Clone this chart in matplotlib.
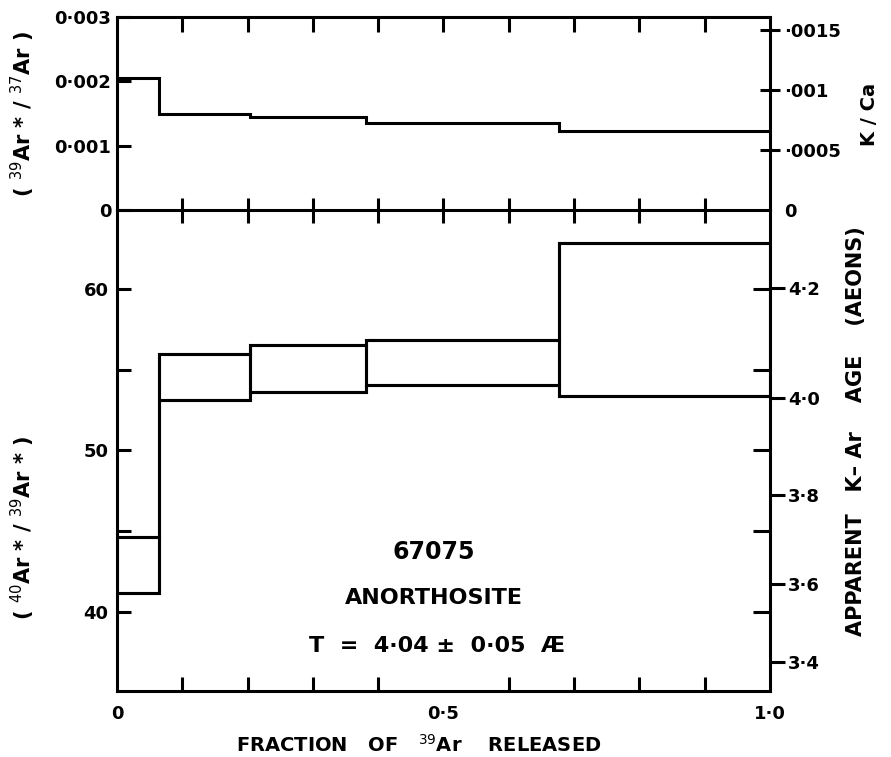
import numpy as np
import matplotlib.pyplot as plt

# step boundaries (fraction of 39Ar released)
edges = [0.0, 0.065, 0.204, 0.381, 0.677, 1.0]

# top panel: 39Ar*/37Ar per step
ar39_37 = [0.00205, 0.00150, 0.00145, 0.00135, 0.00123]
kca_factor = 0.535  # K/Ca = factor * (39Ar*/37Ar)

# bottom panel: 40Ar*/39Ar* boxes (upper and lower edge per step)
ratio_hi = [44.6, 56.0, 56.5, 56.85, 62.85]
ratio_lo = [41.15, 53.1, 53.6, 54.05, 53.35]

# apparent age scale on the right: ratio position of each age tick
age_labels = ["4·2", "4·0", "3·8", "3·6", "3·4"]
age_pos = [60.06, 53.24, 47.24, 41.72, 36.90]

LW = 2.2
TICKFONT = dict(fontsize=13, fontweight="bold")

plt.rcParams["font.family"] = "DejaVu Sans"
plt.rcParams["axes.linewidth"] = LW
plt.rcParams["mathtext.fontset"] = "dejavusans"

fig = plt.figure(figsize=(8.91, 7.57), dpi=100)
ax2 = fig.add_axes([0.1313, 0.0876, 0.7329, 0.6350])
ax1 = fig.add_axes([0.1313, 0.7226, 0.7329, 0.2549])
ax1.patch.set_visible(False)
ax2.patch.set_visible(False)

xt = np.arange(1, 10) / 10

# ---- top panel ----
ax1.stairs(ar39_37, edges, baseline=None, color="black", lw=LW)
ax1.set_xlim(0, 1)
ax1.set_ylim(0, 0.003)
ax1.set_yticks([0, 0.001, 0.002, 0.003])
ax1.set_yticklabels(["0", "0·001", "0·002", "0·003"], **TICKFONT)
ax1.tick_params(axis="y", direction="in", length=10, width=LW, pad=4)
ax1.set_xticks(xt)
ax1.tick_params(axis="x", which="major", top=True, bottom=True, labelbottom=False,
                direction="in", length=11, width=LW)
for t in ax1.xaxis.get_major_ticks():
    t.tick1line.set_marker("|")
    t.tick1line.set_markersize(18)

ax1r = ax1.twinx()
ax1r.set_ylim(0, 0.003 * kca_factor)
ax1r.set_yticks([0, 0.0005, 0.001, 0.0015])
ax1r.set_yticklabels(["0", "·0005", "·001", "·0015"], **TICKFONT)
ax1r.tick_params(axis="y", direction="inout", length=14, width=LW, pad=3)
for t in ax1r.yaxis.get_major_ticks()[:1]:
    t.tick2line.set_visible(False)
for s in ax1r.spines.values():
    s.set_visible(False)

# ---- bottom panel ----
widths = np.diff(edges)
ax2.bar(edges[:-1], np.subtract(ratio_hi, ratio_lo), width=widths, bottom=ratio_lo,
        align="edge", fill=False, edgecolor="black", lw=LW)
ax2.stairs(ratio_hi, edges, baseline=None, color="black", lw=LW)
ax2.stairs(ratio_lo, edges, baseline=None, color="black", lw=LW)
ax2.set_xlim(0, 1)
ax2.set_ylim(35.1, 64.9)
ax2.set_yticks([40, 50, 60])
ax2.set_yticklabels(["40", "50", "60"], **TICKFONT)
ax2.set_yticks([45, 55], minor=True)
ax2.tick_params(axis="y", which="both", direction="in", length=10, width=LW, pad=6)
ax2.set_xticks([0, 0.5, 1.0])
ax2.set_xticklabels(["0", "0·5", "1·0"], **TICKFONT)
ax2.set_xticks(xt, minor=True)
ax2.tick_params(axis="x", which="both", direction="in", length=10, width=LW, pad=10)
ax2.tick_params(axis="x", which="major", length=0)
ax2.spines["top"].set_visible(False)

ax2r = ax2.twinx()
ax2r.set_ylim(ax2.get_ylim())
ax2r.set_yticks(age_pos)
ax2r.set_yticklabels(age_labels, **TICKFONT)
ax2r.tick_params(axis="y", which="major", direction="out", length=11, width=LW, pad=2)
ax2r.set_yticks([40, 45, 50, 55, 60], minor=True)
ax2r.tick_params(axis="y", which="minor", direction="in", length=12, width=LW)
for s in ax2r.spines.values():
    s.set_visible(False)

# annotations
ax2.text(0.485, 43.7, "67075", ha="center", va="center", fontsize=17, fontweight="bold")
ax2.text(0.485, 40.85, "ANORTHOSITE", ha="center", va="center", fontsize=16,
         fontweight="bold")
ax2.text(0.49, 37.85, "T  =  4·04 ±  0·05  Æ", ha="center", va="center", fontsize=16,
         fontweight="bold")

# axis labels
fig.text(0.026, 0.849, r"( $^{39}$Ar * / $^{37}$Ar )", rotation=90,
         ha="center", va="center", fontsize=15, fontweight="bold")
fig.text(0.026, 0.302, r"( $^{40}$Ar * / $^{39}$Ar * )", rotation=90,
         ha="center", va="center", fontsize=15, fontweight="bold")
fig.text(0.976, 0.849, "K / Ca", rotation=90, ha="center", va="center", fontsize=14,
         fontweight="bold")
fig.text(0.961, 0.43, "APPARENT   K– Ar    AGE    (AEONS)", rotation=90,
         ha="center", va="center", fontsize=15, fontweight="bold")
fig.text(0.47, 0.016, r"FRACTION   OF   $^{39}$Ar    RELEASED", ha="center",
         va="center", fontsize=14, fontweight="bold")

fig.savefig("out.png", dpi=100)
